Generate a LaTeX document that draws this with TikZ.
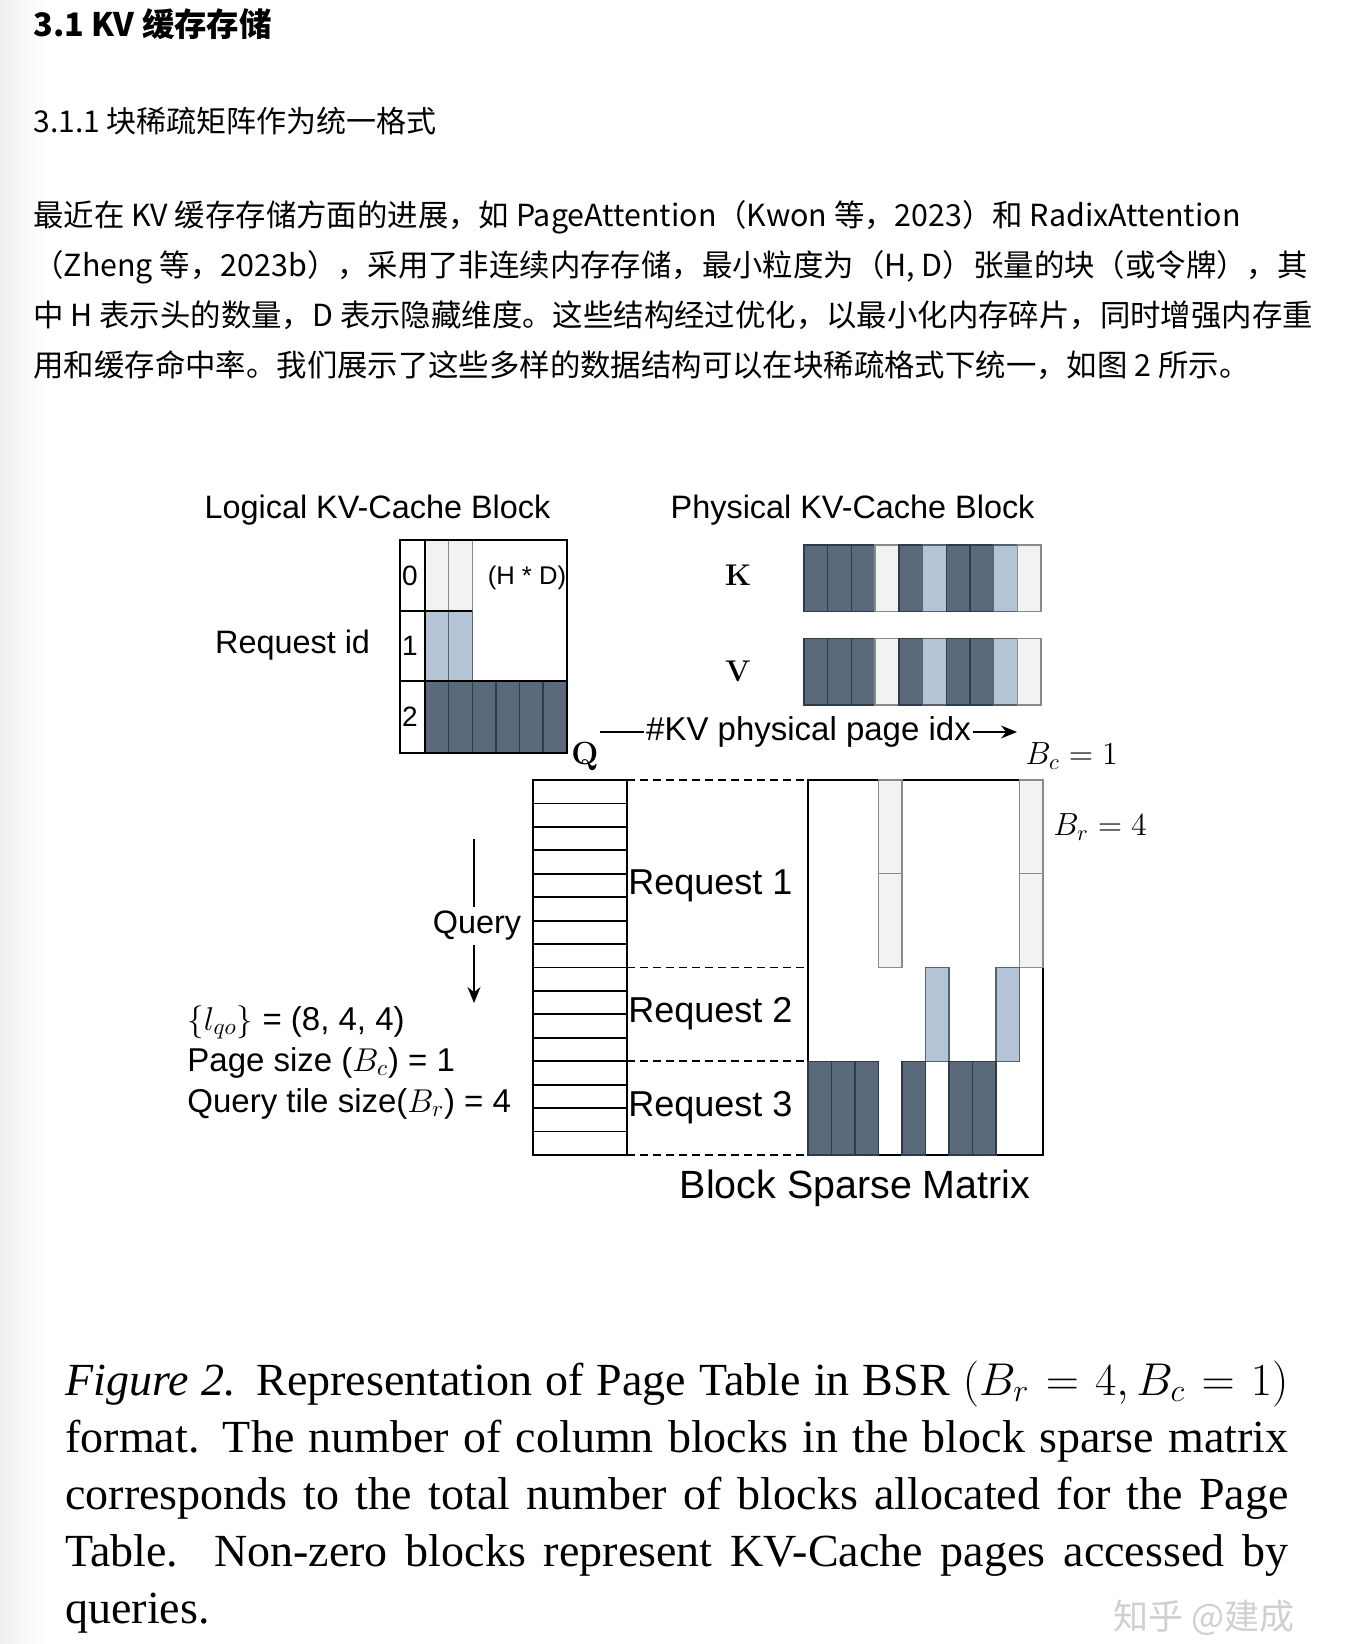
\RequirePackage{fix-cm}
\documentclass[tikz,border=0pt]{standalone}
\usepackage[no-math]{fontspec}
\setmainfont{Liberation Sans}
\newfontfamily\cjkfont{Noto Sans CJK SC}
\newfontfamily\capfont{Liberation Serif}
\usepackage{tikz}
\usetikzlibrary{arrows.meta, positioning, calc}
\definecolor{pagedark}{HTML}{5B6A7B}
\definecolor{pageblue}{HTML}{B2C4D5}
\definecolor{pagelight}{HTML}{F2F2F2}
\definecolor{pageedge}{HTML}{2E3B48}
\definecolor{lightedge}{HTML}{8A8A8A}
\definecolor{markgrey}{HTML}{D0D0D0}

\begin{document}
\begin{tikzpicture}[x=0.5pt, y=-0.5pt,
  cjk/.style={inner sep=0, anchor=base west, font=\cjkfont\fontsize{15.2}{25}\selectfont},
  lbl/.style={inner sep=0, font=\fontsize{16.2}{19}\selectfont},
  req/.style={inner sep=0, anchor=west, font=\fontsize{18}{21}\selectfont},
  idlbl/.style={inner sep=0, font=\fontsize{14}{16}\selectfont},
  darkcell/.style={fill=pagedark, draw=pageedge, line width=0.7pt},
  bluecell/.style={fill=pageblue, draw=pageedge!80, line width=0.7pt},
  lightcell/.style={fill=pagelight, draw=lightedge, line width=0.7pt},
  grid/.style={draw=black, line width=0.9pt},
  dashline/.style={dashed, dash pattern=on 4pt off 2.5pt, line width=0.8pt},
  arrow/.style={-{Stealth[length=8pt, width=6.5pt]}, line width=0.8pt}]
  \useasboundingbox (0,0) rectangle (1356,1644);
  \fill[white] (0,0) rectangle (1356,1644);
  \shade[left color=black!6, right color=white] (0,0) rectangle (46,1644);

  % article text
  \node[cjk, font=\cjkfont\bfseries\fontsize{16.2}{20}\selectfont] (sec) at (33,36) {3.1 KV 缓存存储};
  \node[cjk, font=\cjkfont\fontsize{15}{20}\selectfont] (subsec) at (33,132) {3.1.1 块稀疏矩阵作为统一格式};
  % base of a multi-line node is its last line
  \node[cjk, align=left] (para) at (33,376) {最近在 KV 缓存存储方面的进展，如 PageAttention（Kwon 等，2023）和 RadixAttention\\
    （Zheng 等，2023b），采用了非连续内存存储，最小粒度为（H, D）张量的块（或令牌），其\\
    中 H 表示头的数量，D 表示隐藏维度。这些结构经过优化，以最小化内存碎片，同时增强内存重\\
    用和缓存命中率。我们展示了这些多样的数据结构可以在块稀疏格式下统一，如图 2 所示。};

  % logical block
  \node[lbl] (logtitle) at (377.5,510) {Logical KV-Cache Block};
  \foreach \c in {0,1} {
    \draw[lightcell] (425+\c*23.6,540) rectangle ++(23.6,71);
    \draw[bluecell] (425+\c*23.6,611) rectangle ++(23.6,70);
  }
  \foreach \c in {0,...,5}
    \draw[darkcell] (425+\c*23.6,681) rectangle ++(23.6,71.6);
  \draw[grid] (400,540) rectangle (566.6,752.6);
  \draw[grid] (425,540) -- (425,752.6);
  \draw[grid] (400,611) -- (472.2,611);
  \draw[grid] (400,681) -- (566.6,681);
  \node[idlbl] (id0) at (410,576) {0};
  \node[idlbl] (id1) at (410,646) {1};
  \node[idlbl] (id2) at (410,717) {2};
  \node[inner sep=0, font=\fontsize{12.8}{15}\selectfont] (hd) at (527,578) {(H * D)};
  \node[lbl] (reqid) at (292.6,645) {Request id};

  % physical block
  \node[lbl] (phytitle) at (852.6,510) {Physical KV-Cache Block};
  \foreach \s [count=\i from 0] in {darkcell,darkcell,darkcell,lightcell,darkcell,bluecell,darkcell,darkcell,bluecell,lightcell} {
    \draw[\s] (804+\i*23.7,545) rectangle ++(23.7,66.7);
    \draw[\s] (804+\i*23.7,638.3) rectangle ++(23.7,66.7);
  }
  \node[inner sep=0, font=\fontsize{15}{18}\selectfont] (klbl) at (738,575) {$\mathbf{K}$};
  \node[inner sep=0, font=\fontsize{15}{18}\selectfont] (vlbl) at (738,671) {$\mathbf{V}$};

  \coordinate (kvfrom) at (600,732);
  \coordinate (kvto) at (1017,732);
  \draw[arrow] (kvfrom) -- node[lbl, fill=white, inner sep=1pt, font=\fontsize{16.5}{19}\selectfont] (kvlbl) {\#KV physical page idx} (kvto);

  % query tiles
  \node[inner sep=0, font=\fontsize{16}{19}\selectfont] (qlbl) at (585,757) {$\mathbf{Q}$};
  \draw[grid] (533,780) rectangle (627,1155);
  \foreach \r in {1,...,15}
    \draw[grid] (533,780+\r*23.4375) -- (627,780+\r*23.4375);
  \foreach \y in {780,967.5,1061.25,1155}
    \draw[dashline] (627,\y) -- (808,\y);
  \node[req] (req1) at (628,886) {Request 1};
  \node[req] (req2) at (628,1014) {Request 2};
  \node[req] (req3) at (628,1108) {Request 3};

  \coordinate (qtop) at (474,839);
  \coordinate (qbot) at (474,1003);
  \draw[arrow] (qtop) -- node[lbl, fill=white, inner sep=2pt, pos=0.53, xshift=1.5pt] (query) {Query} (qbot);
  \node[inner sep=0, anchor=base west, align=left, font=\fontsize{16.5}{20.5}\selectfont] (params) at (187,1112)
    {$\{l_{qo}\}$ = (8, 4, 4)\\Page size ($B_c$) = 1\\Query tile size($B_r$) = 4};

  % block sparse matrix
  \draw[grid, fill=white] (808,780) rectangle (1043,1155);
  \foreach \c in {3,9}
    \foreach \t in {0,1}
      \draw[lightcell] (808+\c*23.5,780+\t*93.75) rectangle ++(23.5,93.75);
  \foreach \c in {5,8}
    \draw[bluecell] (808+\c*23.5,967.5) rectangle ++(23.5,93.75);
  \foreach \c in {0,1,2,4,6,7}
    \draw[darkcell] (808+\c*23.5,1061.25) rectangle ++(23.5,93.75);
  \node[inner sep=0, anchor=west, font=\fontsize{16}{19}\selectfont] (bc) at (1025,756) {$B_c = 1$};
  \node[inner sep=0, anchor=west, font=\fontsize{16}{19}\selectfont] (br) at (1053,827) {$B_r = 4$};
  \node[inner sep=0, font=\fontsize{19.7}{23}\selectfont] (bsmlbl) at (855,1188) {Block Sparse Matrix};

  % caption
  \node[inner sep=0, anchor=base west, text width=611.5pt, align=justify,
    font=\capfont\fontsize{23}{28.5}\selectfont] (caption) at (65,1395)
    {\textit{Figure 2.} Representation of Page Table in BSR $\bigl(B_r = 4, B_c = 1\bigr)$\linebreak
     format. The number of column blocks in the block sparse matrix\linebreak
     corresponds to the total number of blocks allocated for the Page\linebreak
     Table.\ \ Non-zero blocks represent KV-Cache pages accessed by\linebreak
     queries.};
  \node[inner sep=0, text=markgrey, font=\cjkfont\fontsize{17.5}{20}\selectfont] (mark) at (1204,1618) {知乎 @建成};
\end{tikzpicture}
\end{document}
